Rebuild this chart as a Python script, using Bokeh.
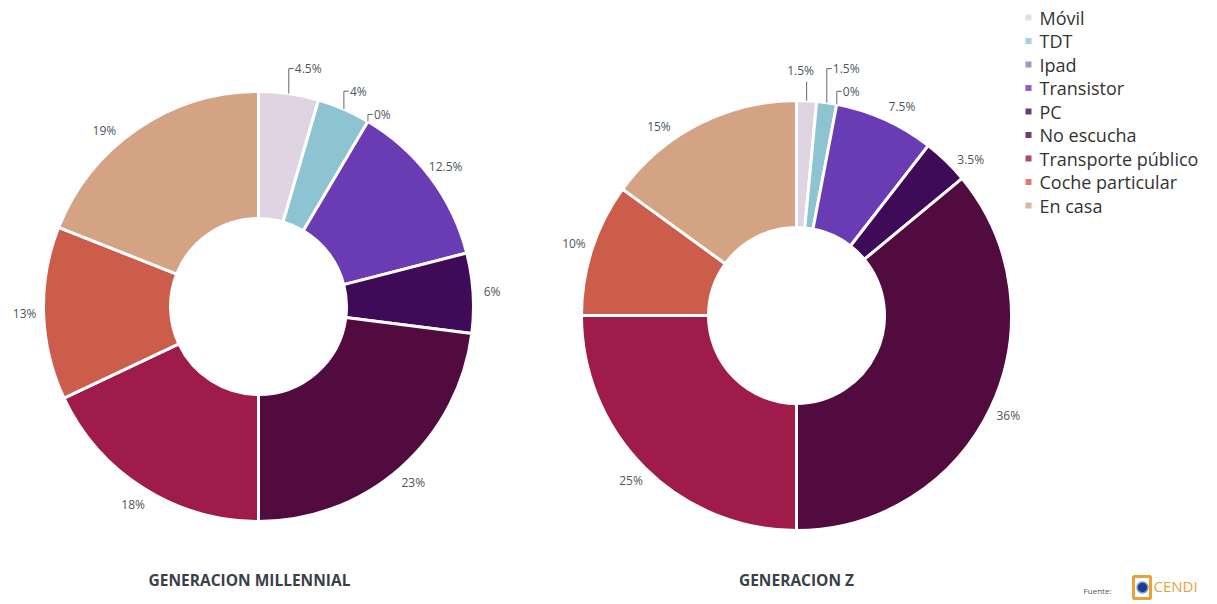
import math
from bokeh.plotting import figure
from bokeh.models import Range1d
from bokeh.core.properties import value
from bokeh.embed import file_html
from bokeh.resources import INLINE

# ---------------- data ----------------
categories = ["Móvil", "TDT", "Ipad", "Transistor", "PC", "No escucha",
              "Transporte público", "Coche particular", "En casa"]
millennial = [4.5, 4, 0, 12.5, 6, 23, 18, 13, 19]
gen_z = [1.5, 1.5, 0, 7.5, 3.5, 36, 25, 10, 15]
chart_titles = ["GENERACION MILLENNIAL", "GENERACION Z"]
source_label = "Fuente:"
source_name = "CENDI"

# ---------------- styles ----------------
colors = ["#e0d4e3", "#8ec4d2", "#8080b8", "#6a3cb4", "#3f0b59", "#520b3e",
          "#9e1b4a", "#cc5d4b", "#d4a383"]
FONT = "Open Sans"
LABEL_COLOR = "#4f5561"
W, H = 1215, 602


def X(px):
    return px - 1


def Y(py):
    return H + 1 - py


R_OUT, R_IN, R_LAB = 215, 88, 234
centers = [(X(259), Y(307)), (X(797), Y(316))]
title_pos = [(X(250), Y(580)), (X(797), Y(580))]
# leader-line styles for the small slices (index -> (mode, height))
leaders = [
    {0: ("side", 25), 1: ("side", 18), 2: ("side", 7)},
    {0: ("top", 19), 1: ("side", 34), 2: ("side", 13)},
]
angle_nudge = [
    {8: -7.0},
    {8: -9.0, 4: 4.0, 3: 2.5},
]

p = figure(width=W, height=H, output_backend="svg", toolbar_location=None,
           x_range=Range1d(0, W), y_range=Range1d(0, H), min_border=0)
p.axis.visible = False
p.grid.visible = False
p.outline_line_color = None
p.background_fill_color = "white"

for ci, vals in enumerate([millennial, gen_z]):
    cx, cy = centers[ci]
    total = sum(vals)
    cum = 0.0
    starts, ends, wcols = [], [], []
    all_mids = []
    for i, v in enumerate(vals):
        a0 = cum / total * 2 * math.pi
        cum += v
        a1 = cum / total * 2 * math.pi
        all_mids.append((a0 + a1) / 2)
        if v > 0:
            starts.append(math.pi / 2 - a0)
            ends.append(math.pi / 2 - a1)
            wcols.append(colors[i])
    p.annular_wedge(x=[cx] * len(starts), y=[cy] * len(starts),
                    inner_radius=R_IN, outer_radius=R_OUT, start_angle=starts,
                    end_angle=ends, direction="clock", fill_color=wcols,
                    line_color="white", line_width=3)
    # labels
    lx, ly, lt = [], [], []
    for i, v in enumerate(vals):
        txt = f"{v:g}%"
        m = all_mids[i]
        if i in leaders[ci]:
            mode, h = leaders[ci][i]
            ox = cx + R_OUT * math.sin(m)
            oy = cy + R_OUT * math.cos(m)
            if mode == "side":
                p.line([ox, ox, ox + 5], [oy, oy + h, oy + h],
                       line_color="#666666", line_width=1)
                p.text([ox + 6], [oy + h], text=[txt], text_align="left",
                       text_baseline="middle", text_font=value(FONT),
                       text_font_size="12px", text_color=LABEL_COLOR)
            else:
                p.line([ox, ox], [oy, oy + h], line_color="#666666",
                       line_width=1)
                p.text([ox - 6], [oy + h + 3], text=[txt], text_align="center",
                       text_baseline="bottom", text_font=value(FONT),
                       text_font_size="12px", text_color=LABEL_COLOR)
        else:
            m2 = m + math.radians(angle_nudge[ci].get(i, 0.0))
            lx.append(cx + R_LAB * math.sin(m2))
            ly.append(cy + R_LAB * math.cos(m2))
            lt.append(txt)
    p.text(lx, ly, text=lt, text_align="center", text_baseline="middle",
           text_font=value(FONT), text_font_size="12px", text_color=LABEL_COLOR)
    tx, ty = title_pos[ci]
    p.text([tx], [ty], text=[chart_titles[ci]], text_align="center",
           text_baseline="middle", text_font=value(FONT),
           text_font_size="15.5px", text_font_style="bold",
           text_color="#3a3f4a")

# legend
leg_y = [Y(18 + 23.5 * i) for i in range(len(categories))]
p.scatter([X(1029)] * len(categories), leg_y, marker="square", size=6,
          fill_color=colors, line_color=None, fill_alpha=0.8)
p.text([X(1040)] * len(categories), leg_y, text=categories, text_align="left",
       text_baseline="middle", text_font=value(FONT), text_font_size="18px",
       text_color="#333333")

# source logo
p.text([X(1112)], [Y(591)], text=[source_label], text_align="right",
       text_baseline="middle", text_font=value(FONT), text_font_size="8px",
       text_color="#555555")
p.quad(left=[X(1134)], right=[X(1151)], bottom=[Y(599)], top=[Y(577)],
       fill_color=None, line_color="#e8a23a", line_width=3)
p.scatter([X(1143)], [Y(588)], marker="circle", size=11, fill_color="#1f3c8c",
          line_color="#7fa0d8", line_width=1.5)
p.text([X(1154)], [Y(586)], text=[source_name], text_align="left",
       text_baseline="middle", text_font=value(FONT), text_font_size="15px",
       text_color="#e8a23a")

open("out.html", "w").write(file_html(p, INLINE))
